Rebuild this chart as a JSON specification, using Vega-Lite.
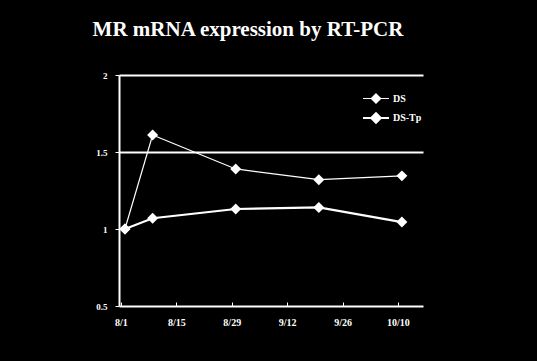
{
  "$schema": "https://vega.github.io/schema/vega-lite/v6.json",
  "autosize": {"type": "none"},
  "width": 304,
  "height": 231,
  "padding": {"left": 119, "top": 75, "right": 114, "bottom": 55},
  "background": "black",
  "title": {
    "text": "MR mRNA expression by RT-PCR",
    "font": "Liberation Serif",
    "fontSize": 21,
    "fontWeight": "bold",
    "color": "white",
    "anchor": "middle",
    "frame": "group",
    "dx": -23,
    "offset": 31
  },
  "config": {
    "view": {"stroke": null},
    "font": "Liberation Serif"
  },
  "data": {
    "values": [
      {"date": "2006-08-02", "series": "DS", "value": 1.0},
      {"date": "2006-08-09", "series": "DS", "value": 1.61},
      {"date": "2006-08-30", "series": "DS", "value": 1.39},
      {"date": "2006-09-20", "series": "DS", "value": 1.32},
      {"date": "2006-10-11", "series": "DS", "value": 1.345},
      {"date": "2006-08-02", "series": "DS-Tp", "value": 1.0},
      {"date": "2006-08-09", "series": "DS-Tp", "value": 1.07},
      {"date": "2006-08-30", "series": "DS-Tp", "value": 1.13},
      {"date": "2006-09-20", "series": "DS-Tp", "value": 1.14},
      {"date": "2006-10-11", "series": "DS-Tp", "value": 1.045}
    ]
  },
  "encoding": {
    "x": {
      "field": "date",
      "type": "temporal",
      "scale": {
        "type": "utc",
        "domain": [
          {"year": 2006, "month": 7, "date": 31, "hours": 12, "utc": true},
          {"year": 2006, "month": 10, "date": 16, "hours": 8, "utc": true}
        ]
      },
      "axis": {
        "title": null,
        "values": [
          {"year": 2006, "month": 8, "date": 1, "utc": true},
          {"year": 2006, "month": 8, "date": 15, "utc": true},
          {"year": 2006, "month": 8, "date": 29, "utc": true},
          {"year": 2006, "month": 9, "date": 12, "utc": true},
          {"year": 2006, "month": 9, "date": 26, "utc": true},
          {"year": 2006, "month": 10, "date": 10, "utc": true}
        ],
        "format": "%-m/%-d",
        "grid": false,
        "domainColor": "white",
        "domainWidth": 2,
        "tickColor": "white",
        "tickSize": -4,
        "labelColor": "white",
        "labelFont": "Liberation Serif",
        "labelFontWeight": "bold",
        "labelFontSize": 10,
        "labelPadding": 15,
        "labelFlush": false
      }
    },
    "y": {
      "field": "value",
      "type": "quantitative",
      "scale": {"domain": [0.5, 2]},
      "axis": {
        "title": null,
        "values": [0.5, 1, 1.5, 2],
        "format": "~g",
        "grid": true,
        "gridColor": {"condition": {"test": "datum.value === 1 || datum.value === 0.5", "value": "transparent"}, "value": "white"},
        "gridWidth": 2,
        "gridOpacity": 1,
        "domainColor": "white",
        "domainWidth": 2,
        "tickColor": "white",
        "tickSize": 4,
        "labelColor": "white",
        "labelFont": "Liberation Serif",
        "labelFontWeight": "bold",
        "labelFontSize": 9,
        "labelPadding": 8
      }
    }
  },
  "layer": [
    {
      "mark": {"type": "line", "color": "white"},
      "encoding": {
        "strokeWidth": {
          "field": "series",
          "type": "nominal",
          "scale": {"domain": ["DS", "DS-Tp"], "range": [1.2, 2.2]},
          "legend": {
            "title": null,
            "orient": "none",
            "legendX": 249,
            "legendY": 16,
            "symbolType": "M-2,0H2M0,-0.72L0.72,0L0,0.72L-0.72,0Z",
            "symbolSize": 169,
            "symbolFillColor": "white",
            "symbolStrokeColor": "white",
            "labelColor": "white",
            "labelFont": "Liberation Serif",
            "labelFontWeight": "bold",
            "labelFontSize": 10,
            "labelOffset": 9,
            "rowPadding": 2,
            "padding": 0
          }
        }
      }
    },
    {
      "mark": {"type": "point", "shape": "diamond", "filled": true, "color": "white", "size": 120, "opacity": 1},
      "encoding": {
        "detail": {"field": "series", "type": "nominal"}
      }
    }
  ]
}
